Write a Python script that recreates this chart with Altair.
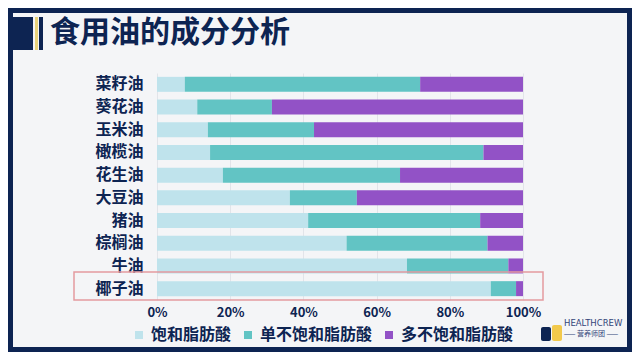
import altair as alt
import pandas as pd

# ---- data ----
oils = ["菜籽油", "葵花油", "玉米油", "橄榄油", "花生油", "大豆油", "猪油", "棕榈油", "牛油", "椰子油"]
series = ["饱和脂肪酸", "单不饱和脂肪酸", "多不饱和脂肪酸"]
saturated = [7.6, 11.0, 13.9, 14.5, 18.0, 36.3, 41.3, 51.8, 68.3, 91.2]
mono_unsat = [64.3, 20.4, 29.0, 74.7, 48.4, 18.3, 47.0, 38.5, 27.7, 6.9]
poly_unsat = [28.1, 68.6, 57.1, 10.8, 33.6, 45.4, 11.7, 9.7, 4.0, 1.9]
x_ticks = [0, 0.2, 0.4, 0.6, 0.8, 1.0]
title_text = "食用油的成分分析"

NAVY = "#0d2452"
FONT = "Noto Sans CJK SC"
colors = ["#bfe3ec", "#62c4c4", "#9252c6"]

rows = []
for i, oil in enumerate(oils):
    for j, vals in enumerate([saturated, mono_unsat, poly_unsat]):
        rows.append({"oil": oil, "type": series[j], "ord": j, "value": vals[i]})
df = pd.DataFrame(rows)
one = pd.DataFrame({"k": [0]})


def rect(x1, x2, y1, y2, **kw):
    return alt.Chart(one).mark_rect(**kw).encode(
        x=alt.value(x1), x2=alt.value(x2), y=alt.value(y1), y2=alt.value(y2)
    )


bars = alt.Chart(df).mark_bar().encode(
    x=alt.X(
        "value:Q",
        stack="normalize",
        scale=alt.Scale(domain=[0, 1]),
        axis=alt.Axis(
            values=x_ticks, format=".0%", title=None, domain=False, ticks=False,
            grid=True, gridColor="#e2e4e9", labelFontSize=13, labelFontWeight="bold",
            labelColor=NAVY, labelPadding=6, labelFont=FONT, labelFlush=False,
        ),
    ),
    y=alt.Y(
        "oil:N",
        sort=oils,
        scale=alt.Scale(paddingInner=0.34, paddingOuter=0.17),
        axis=alt.Axis(
            title=None, domain=False, ticks=False, labelFontSize=16,
            labelFontWeight="bold", labelColor=NAVY, labelPadding=14, labelFont=FONT,
        ),
    ),
    color=alt.Color(
        "type:N",
        scale=alt.Scale(domain=series, range=colors),
        legend=alt.Legend(
            orient="none", legendX=-26, legendY=254, direction="horizontal",
            title=None, symbolType="square", symbolSize=64, symbolStrokeWidth=0,
            labelFontSize=16, labelFontWeight="bold", labelColor=NAVY,
            labelFont=FONT, columnPadding=8, labelOffset=4,
        ),
    ),
    order=alt.Order("ord:Q"),
)

frame = rect(-149, 475, -65, 279, filled=False, stroke=NAVY, strokeWidth=10)
block = rect(-149, -124, -56, -23, color=NAVY)
yellow = rect(-122, -119, -56, -23, color="#e8d27a")
thin = rect(-118, -114, -56, -23, color=NAVY)
title = alt.Chart(one).mark_text(
    text=title_text, align="left", baseline="middle", fontSize=30,
    fontWeight="bold", font=FONT, color=NAVY,
).encode(x=alt.value(-107), y=alt.value(-40))

highlight = rect(-83, 386, 199, 227, filled=False, stroke="#e39aa0", strokeWidth=1.5)

icon1 = rect(384, 394, 254, 268, color=NAVY, cornerRadius=2)
icon2 = rect(395, 405, 252, 268, color="#f2c94c", cornerRadius=2)
logo1 = alt.Chart(one).mark_text(
    text="HEALTHCREW", align="left", baseline="middle", fontSize=8.5,
    font="DejaVu Sans", color="#33457a",
).encode(x=alt.value(407), y=alt.value(250))
logo2 = alt.Chart(one).mark_text(
    text="—— 营养师团 ——", align="center", baseline="middle", fontSize=7,
    font=FONT, color="#33457a",
).encode(x=alt.value(434), y=alt.value(261))

chart = alt.layer(
    frame, block, yellow, thin, title, bars, highlight, icon1, icon2, logo1, logo2
).properties(
    width=366, height=227,
    padding={"left": 149, "top": 65, "right": 109, "bottom": 52},
    autosize="none",
).configure(background="#f4f5f7").configure_view(stroke=None)

chart.save("out.html", embed_options={"renderer": "svg", "actions": False})
